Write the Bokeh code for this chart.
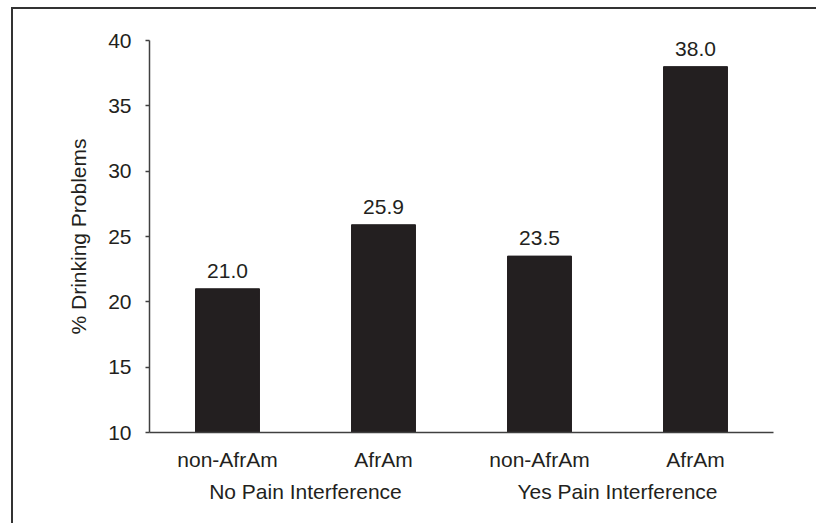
from bokeh.plotting import figure
from bokeh.models import ColumnDataSource, LabelSet, FixedTicker, LinearAxis, Range1d
from bokeh.core.properties import value
from bokeh.embed import file_html
from bokeh.resources import INLINE

groups = ["No Pain Interference", "No Pain Interference", "Yes Pain Interference", "Yes Pain Interference"]
subgroups = ["non-AfrAm", "AfrAm", "non-AfrAm", "AfrAm"]
values = [21.0, 25.9, 23.5, 38.0]
y_ticks = [10, 15, 20, 25, 30, 35, 40]

FONT = "Liberation Sans"
INK = "#231f20"
AX = "#404040"

group_names = list(dict.fromkeys(groups))
n = len(subgroups)
xpos = [i + 0.5 for i in range(n)]
gpos = [i + 0.5 for i in range(len(group_names))]
src = ColumnDataSource(dict(x=xpos, top=values, lbl=[f"{v:.1f}" for v in values]))

# outer frame drawn as CSS border on the plot element
BL, BT = 13, 9  # margin + border width
p = figure(width=818 - BL, height=525 - BT, output_backend="svg", toolbar_location=None,
           x_range=Range1d(0, n), y_range=(10, 40),
           min_border_left=149 - BL, min_border_right=45, min_border_top=40 - BT, min_border_bottom=93)
p.styles = {"margin-left": "11px", "margin-top": "7px",
            "border-left": "2px solid #333333", "border-top": "2px solid #333333"}
p.extra_x_ranges = {"groups": Range1d(0, len(group_names))}

p.vbar(x="x", top="top", bottom=10, width=0.41, source=src, fill_color=INK, line_color=INK)

labels = LabelSet(x="x", y="top", text="lbl", source=src, text_align="center",
                  text_baseline="alphabetic", y_offset=11, text_font=value(FONT),
                  text_font_size=value("21px"), text_color=INK)
p.add_layout(labels)

p.grid.visible = False
p.outline_line_color = None
p.background_fill_color = "white"
p.border_fill_color = "white"

ax = p.yaxis[0]
ax.ticker = FixedTicker(ticks=y_ticks)
ax.minor_tick_line_color = None
ax.major_tick_in = 0
ax.major_tick_out = 4
ax.axis_line_color = AX
ax.axis_line_width = 1.5
ax.major_tick_line_color = AX
ax.major_tick_line_width = 1.5
ax.major_label_text_font = FONT
ax.major_label_text_font_size = "21px"
ax.major_label_text_color = INK
ax.major_label_standoff = 14
ax.axis_label = "% Drinking Problems"
ax.axis_label_text_font = FONT
ax.axis_label_text_font_size = "21px"
ax.axis_label_text_font_style = "normal"
ax.axis_label_text_color = INK
ax.axis_label_standoff = 15

xa = p.xaxis[0]
xa.ticker = FixedTicker(ticks=xpos)
xa.major_label_overrides = {pos: s for pos, s in zip(xpos, subgroups)}
xa.axis_line_color = AX
xa.axis_line_width = 1.5
xa.major_tick_line_color = None
xa.minor_tick_line_color = None
xa.major_tick_in = 0
xa.major_tick_out = 0
xa.major_label_text_font = FONT
xa.major_label_text_font_size = "21px"
xa.major_label_text_color = INK
xa.major_label_standoff = 15

ga = LinearAxis(x_range_name="groups", ticker=FixedTicker(ticks=gpos))
ga.major_label_overrides = {pos: g for pos, g in zip(gpos, group_names)}
ga.axis_line_color = None
ga.major_tick_line_color = None
ga.minor_tick_line_color = None
ga.major_tick_in = 0
ga.major_tick_out = 0
ga.major_label_text_font = FONT
ga.major_label_text_font_size = "21px"
ga.major_label_text_color = INK
ga.major_label_standoff = 6
p.add_layout(ga, "below")

open("out.html", "w").write(file_html(p, INLINE))
